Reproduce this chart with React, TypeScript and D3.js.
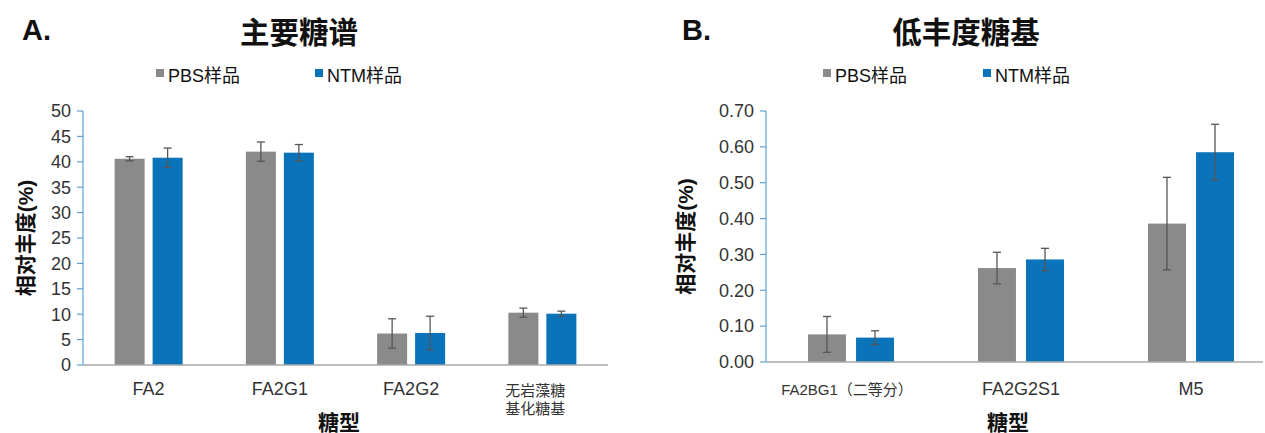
import React from "react";
import * as d3 from "d3";

const W = 1265, H = 433;
const C = { gray: "#8a8a8a", blue: "#0b73b9", err: "#555555", yAxis: "#5aa3d3", xAxis: "#a8a8a8", text: "#333333", title: "#111111" };
const FONT = "'Liberation Sans', Arial, 'Noto Sans CJK SC', sans-serif";

const SERIES = ["PBS样品", "NTM样品"];

// panel A — main glycans
const catsA = ["FA2", "FA2G1", "FA2G2", "无岩藻糖\n基化糖基"];
const pbsA = [40.6, 42.0, 6.2, 10.3];
const pbsErrA = [0.4, 1.9, 2.9, 0.9];
const ntmA = [40.8, 41.8, 6.3, 10.1];
const ntmErrA = [1.9, 1.6, 3.3, 0.5];
const ticksA = [0, 5, 10, 15, 20, 25, 30, 35, 40, 45, 50];

// panel B — low abundance glycans
const catsB = ["FA2BG1（二等分）", "FA2G2S1", "M5"];
const pbsB = [0.077, 0.262, 0.386];
const pbsErrB = [0.05, 0.044, 0.129];
const ntmB = [0.068, 0.286, 0.585];
const ntmErrB = [0.019, 0.031, 0.078];
const ticksB = [0, 0.1, 0.2, 0.3, 0.4, 0.5, 0.6, 0.7];

type PanelProps = {
  letter: string; title: string; cats: string[];
  vals: number[][]; errs: number[][]; ticks: number[]; fmt: (v: number) => string;
  x0: number; x1: number; xEnd: number; y0: number; y1: number; yMax: number;
  groupW: number; innerPad: number; legendX: number[]; titleX: number; letterX: number;
  yTitleX: number; xTitleX: number; catFont: number[]; catDx: number[];
};

function Panel(p: PanelProps) {
  const y = d3.scaleLinear().domain([0, p.yMax]).range([p.y0, p.y1]);
  const step = (p.x1 - p.x0) / p.cats.length;
  const pi = 1 - p.groupW / step;
  const x = d3.scaleBand<string>().domain(p.cats).range([p.x0, p.x1]).paddingInner(pi).paddingOuter(pi / 2);
  const xs = d3.scaleBand<string>().domain(SERIES).range([0, x.bandwidth()]).paddingInner(p.innerPad);
  const colors = [C.gray, C.blue];
  const bw = xs.bandwidth();
  return (
    <g>
      <text x={p.letterX} y={40} fontSize={29} fontWeight={700} fill={C.title} fontFamily={FONT}>{p.letter}</text>
      <text x={p.titleX} y={43} fontSize={29.5} fontWeight={700} fill={C.title} textAnchor="middle" fontFamily={FONT}>{p.title}</text>

      {SERIES.map((s, i) => (
        <g key={s}>
          <rect x={p.legendX[i]} y={69} width={8} height={8} fill={colors[i]} />
          <text x={p.legendX[i] + 12} y={82} fontSize={18} fill={C.title} fontFamily={FONT}>{s}</text>
        </g>
      ))}

      {/* y axis */}
      <line x1={p.x0} x2={p.x0} y1={y(p.yMax)} y2={p.y0} stroke={C.yAxis} strokeWidth={1.2} />
      {p.ticks.map(t => (
        <g key={t}>
          <line x1={p.x0 - 6} x2={p.x0} y1={y(t)} y2={y(t)} stroke={C.yAxis} strokeWidth={1.2} />
          <text x={p.x0 - 12} y={y(t)} dy="0.35em" textAnchor="end" fontSize={18} fill={C.text} fontFamily={FONT}>{p.fmt(t)}</text>
        </g>
      ))}

      {/* bars + error bars */}
      {p.cats.map((c, ci) => (
        <g key={c} transform={`translate(${x(c)},0)`}>
          {SERIES.map((s, si) => {
            const v = p.vals[si][ci], e = p.errs[si][ci];
            const bx = xs(s)!;
            const cx = bx + bw / 2;
            return (
              <g key={s}>
                <rect x={bx} y={y(v)} width={bw} height={p.y0 - y(v)} fill={colors[si]} />
                <line x1={cx} x2={cx} y1={y(v + e)} y2={y(v - e)} stroke={C.err} strokeWidth={1.3} />
                <line x1={cx - 4} x2={cx + 4} y1={y(v + e)} y2={y(v + e)} stroke={C.err} strokeWidth={1.3} />
                <line x1={cx - 4} x2={cx + 4} y1={y(v - e)} y2={y(v - e)} stroke={C.err} strokeWidth={1.3} />
              </g>
            );
          })}
        </g>
      ))}

      {/* x axis */}
      <line x1={p.x0} x2={p.xEnd} y1={p.y0} y2={p.y0} stroke={C.xAxis} strokeWidth={1.5} />
      {p.cats.map((c, ci) => {
        const lines = c.split("\n");
        const cx = x(c)! + x.bandwidth() / 2 + p.catDx[ci];
        return (
          <text key={c} x={cx} y={lines.length > 1 ? 396 : 395} textAnchor="middle" fontSize={p.catFont[ci]} fill={C.text} fontFamily={FONT}>
            {lines.map((l, li) => <tspan key={li} x={cx} dy={li === 0 ? 0 : 18}>{l}</tspan>)}
          </text>
        );
      })}

      <text x={p.xTitleX} y={430} textAnchor="middle" fontSize={21} fontWeight={700} fill={C.title} fontFamily={FONT}>糖型</text>
      <text transform={`translate(${p.yTitleX},${(p.y0 + y(p.yMax)) / 2}) rotate(-90)`} dy="0.35em" textAnchor="middle"
        fontSize={21} fontWeight={700} fill={C.title} fontFamily={FONT}>相对丰度(%)</text>
    </g>
  );
}

export default function App() {
  return (
    <div style={{ position: "fixed", left: 0, top: 0, width: W, height: H, background: "#fff" }}>
      <svg width={W} height={H} style={{ display: "block" }}>
        <Panel letter="A." title="主要糖谱" cats={catsA} vals={[pbsA, ntmA]} errs={[pbsErrA, ntmErrA]}
          ticks={ticksA} fmt={d3.format("d")} x0={83} x1={608} xEnd={608} y0={365} y1={111} yMax={50}
          groupW={68} innerPad={0.21} legendX={[156, 315]} titleX={299} letterX={22}
          yTitleX={26} xTitleX={339} catFont={[18, 18, 18, 15]} catDx={[0, 0, 0, -7]} />
        <Panel letter="B." title="低丰度糖基" cats={catsB} vals={[pbsB, ntmB]} errs={[pbsErrB, ntmErrB]}
          ticks={ticksB} fmt={d3.format(".2f")} x0={766} x1={1276} xEnd={1263} y0={362} y1={111} yMax={0.7}
          groupW={86} innerPad={0.21} legendX={[823, 983]} titleX={966} letterX={682}
          yTitleX={686} xTitleX={1008} catFont={[15, 18, 18]} catDx={[-4, 0, 0]} />
      </svg>
    </div>
  );
}
